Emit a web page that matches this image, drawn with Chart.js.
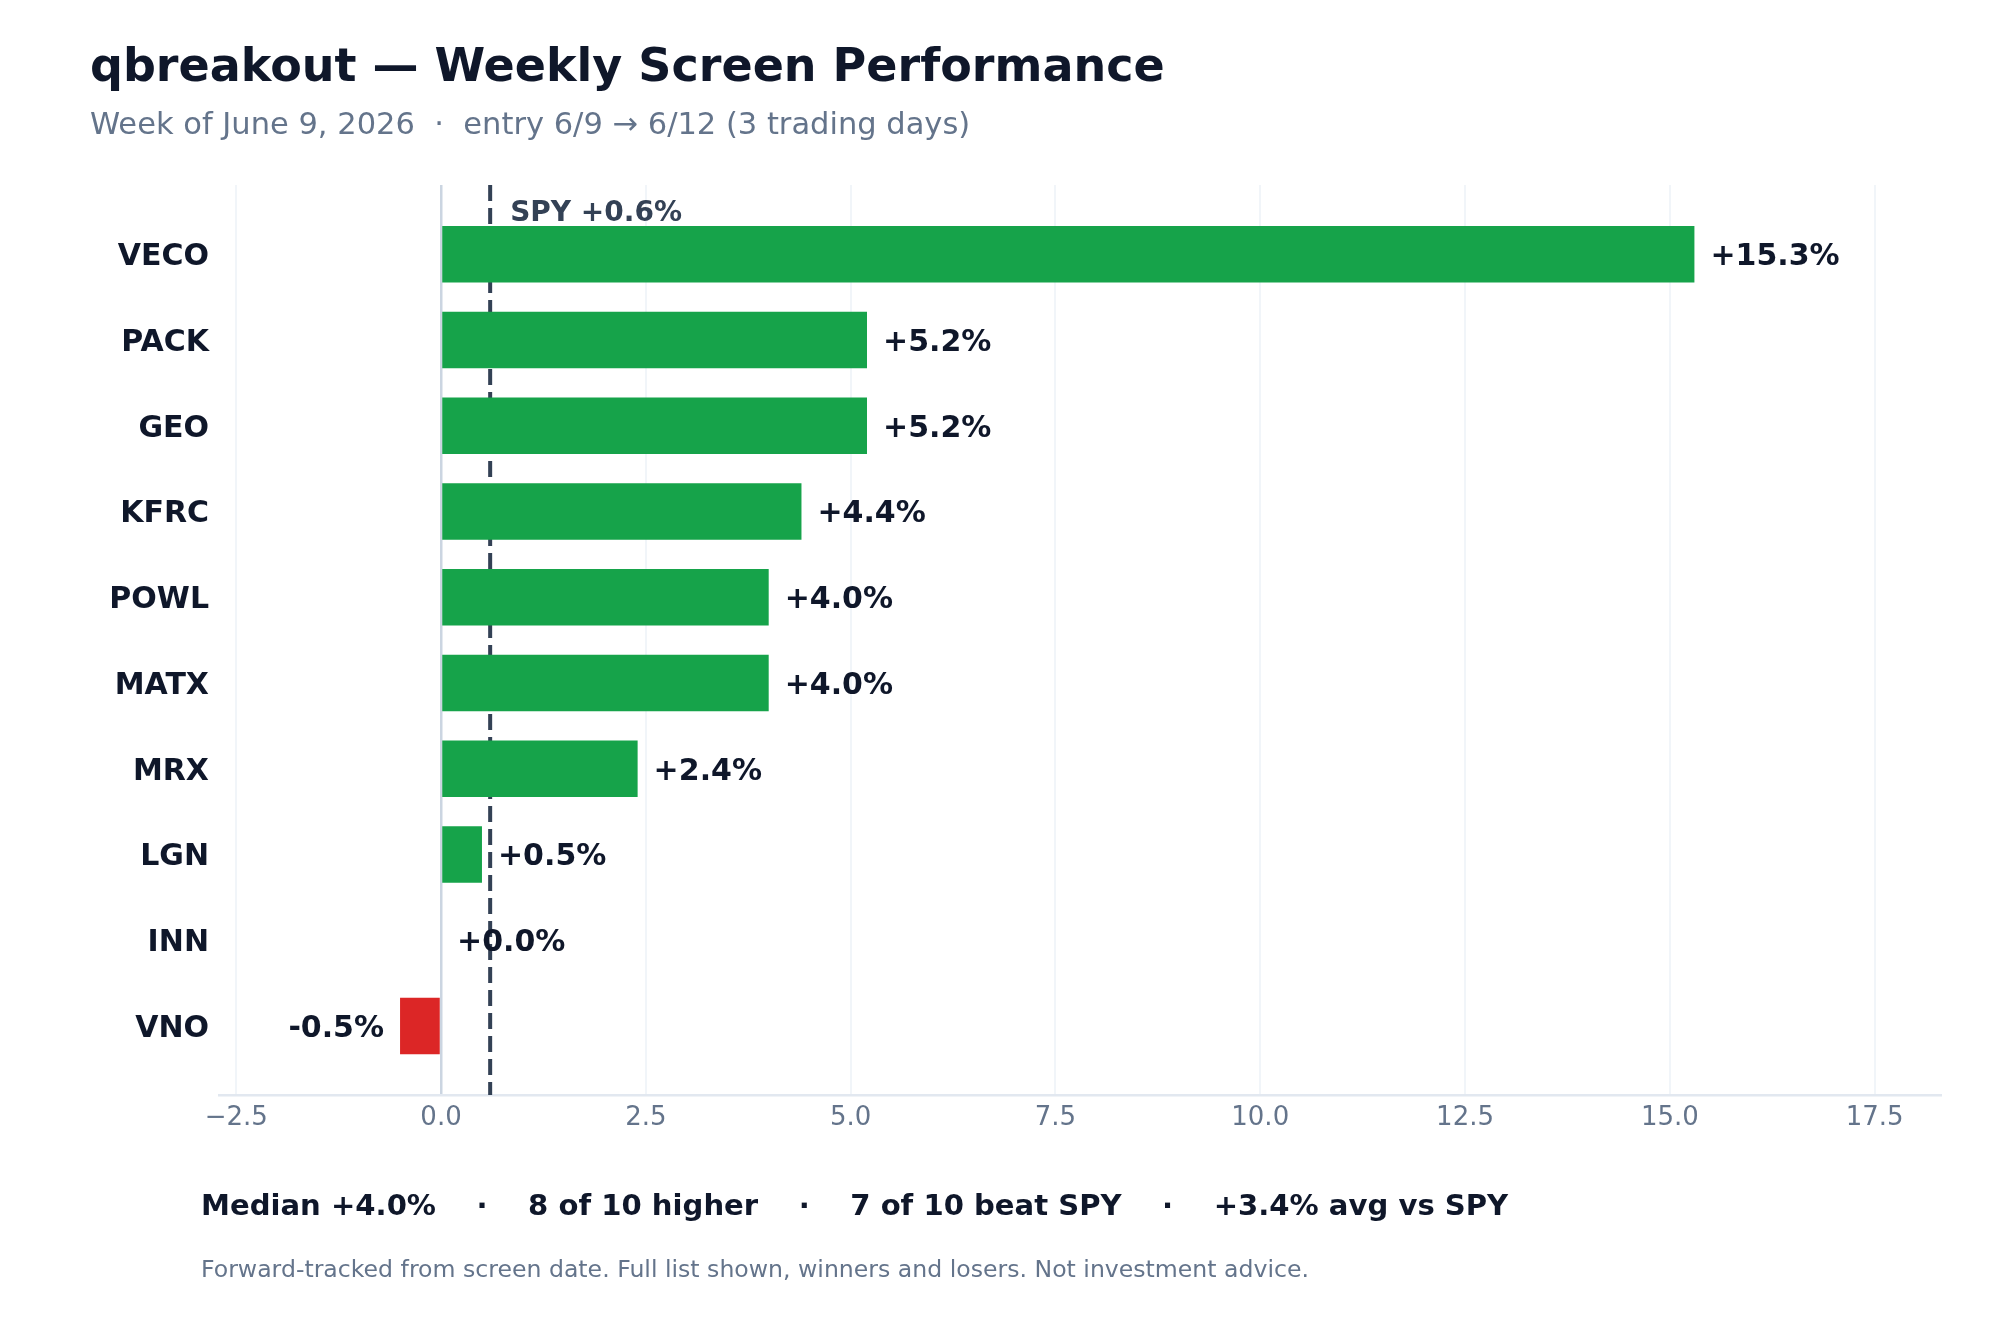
<!DOCTYPE html>
<html>
<head>
<meta charset="utf-8">
<script src="https://cdn.jsdelivr.net/npm/chart.js@4/dist/chart.umd.min.js"></script>
<style>
  html, body { margin: 0; padding: 0; background: #fff; }
  body { width: 2000px; height: 1320px; position: relative; overflow: hidden; font-family: 'DejaVu Sans', sans-serif; }
  .txt { position: absolute; white-space: pre; line-height: 1; }
  #title { left: 90px; top: 42px; font-size: 46px; font-weight: bold; color: #0f172a; }
  #subtitle { left: 90px; top: 109px; font-size: 30.5px; color: #64748b; }
  #stats { left: 201px; top: 1191px; font-size: 29.1px; font-weight: bold; color: #0f172a; }
  #foot { left: 201px; top: 1258px; font-size: 23.6px; color: #64748b; }
  #wrap { position: absolute; left: 0; top: 0; width: 2000px; height: 1320px; }
</style>
</head>
<body>
<div id="wrap"><canvas id="chart" width="2000" height="1320"></canvas></div>
<div class="txt" id="title">qbreakout — Weekly Screen Performance</div>
<div class="txt" id="subtitle">Week of June 9, 2026  ·  entry 6/9 → 6/12 (3 trading days)</div>
<div class="txt" id="stats">Median +4.0%    ·    8 of 10 higher    ·    7 of 10 beat SPY    ·    +3.4% avg vs SPY</div>
<div class="txt" id="foot">Forward-tracked from screen date. Full list shown, winners and losers. Not investment advice.</div>
<script>
// weekly returns per ticker, top to bottom
const tickers = ['VECO', 'PACK', 'GEO', 'KFRC', 'POWL', 'MATX', 'MRX', 'LGN', 'INN', 'VNO'];
const returnsPct = [15.3, 5.2, 5.2, 4.4, 4.0, 4.0, 2.4, 0.5, 0.0, -0.5];
const spyReturn = 0.6;
const xTickValues = [-2.5, 0, 2.5, 5, 7.5, 10, 12.5, 15, 17.5];

const GREEN = '#16a34a';
const RED = '#dc2626';
const INK = '#0f172a';
const FONT = "'DejaVu Sans', sans-serif";

function fmtPct(v){
    return (v < 0 ? '-' : '+') + Math.abs(v).toFixed(1) + '%';
}

// SPY reference line, drawn under the bars
const spyLine = {
    id: 'spyLine',
    beforeDatasetsDraw(chart){
        const {ctx, chartArea, scales} = chart;
        const x = scales.x.getPixelForValue(spyReturn);
        ctx.save();
        ctx.strokeStyle = '#334155';
        ctx.lineWidth = 4;
        ctx.setLineDash([16, 7]);
        ctx.beginPath();
        ctx.moveTo(x, chartArea.top);
        ctx.lineTo(x, chartArea.bottom);
        ctx.stroke();
        ctx.restore();
    },
    afterDatasetsDraw(chart){
        const {ctx, scales} = chart;
        ctx.save();
        ctx.font = 'bold 28px ' + FONT;
        ctx.fillStyle = '#334155';
        ctx.textBaseline = 'middle';
        ctx.textAlign = 'left';
        ctx.fillText('SPY ' + fmtPct(spyReturn), scales.x.getPixelForValue(spyReturn) + 20, scales.y.getPixelForValue(-0.5) + 2);
        ctx.restore();
    }
};

// value labels at the bar ends
const valueLabels = {
    id: 'valueLabels',
    afterDatasetsDraw(chart){
        const {ctx, scales} = chart;
        ctx.save();
        ctx.font = 'bold 30px ' + FONT;
        ctx.fillStyle = INK;
        ctx.textBaseline = 'middle';
        returnsPct.forEach((v, i) => {
            const x = scales.x.getPixelForValue(v);
            const y = scales.y.getPixelForValue(i) + 3;
            if (v < 0) {
                ctx.textAlign = 'right';
                ctx.fillText(fmtPct(v), x - 16, y);
            } else {
                ctx.textAlign = 'left';
                ctx.fillText(fmtPct(v), x + 16, y);
            }
        });
        ctx.restore();
    }
};

new Chart(document.getElementById('chart').getContext('2d'), {
    type: 'bar',
    data: {
        datasets: [{
            data: returnsPct.map((v, i) => ({x: v, y: i})),
            backgroundColor: returnsPct.map(v => v < 0 ? RED : GREEN),
            borderWidth: 0,
            categoryPercentage: 1,
            barPercentage: 0.66
        }]
    },
    options: {
        indexAxis: 'y',
        responsive: false,
        devicePixelRatio: 1,
        animation: false,
        layout: {padding: {top: 185, right: 59, bottom: 0, left: 0}},
        plugins: {legend: {display: false}, tooltip: {enabled: false}},
        scales: {
            x: {
                type: 'linear',
                min: -2.71,
                max: 18.31,
                afterBuildTicks: axis => { axis.ticks = xTickValues.map(v => ({value: v})); },
                afterFit: axis => { axis.height = 225; },
                ticks: {
                    autoSkip: false,
                    padding: 8,
                    color: '#64748b',
                    font: {family: FONT, size: 26},
                    callback: v => (v < 0 ? '\u2212' : '') + Math.abs(v).toFixed(1)
                },
                grid: {
                    drawTicks: false,
                    color: c => c.tick && c.tick.value === 0 ? '#cbd5e1' : '#f1f5f9',
                    lineWidth: c => c.tick && c.tick.value === 0 ? 2.5 : 2
                },
                border: {display: true, color: '#e2e8f0', width: 2.5}
            },
            y: {
                type: 'linear',
                reverse: true,
                offset: false,
                min: -0.808,
                max: 9.805,
                afterBuildTicks: axis => { axis.ticks = tickers.map((t, i) => ({value: i})); },
                afterFit: axis => { axis.width = 219; },
                ticks: {
                    autoSkip: false,
                    padding: 10,
                    labelOffset: 3,
                    color: INK,
                    font: {family: FONT, size: 30, weight: 'bold'},
                    callback: v => tickers[v]
                },
                grid: {display: false, drawTicks: false, offset: false},
                border: {display: false}
            }
        }
    },
    plugins: [spyLine, valueLabels]
});
</script>
</body>
</html>
